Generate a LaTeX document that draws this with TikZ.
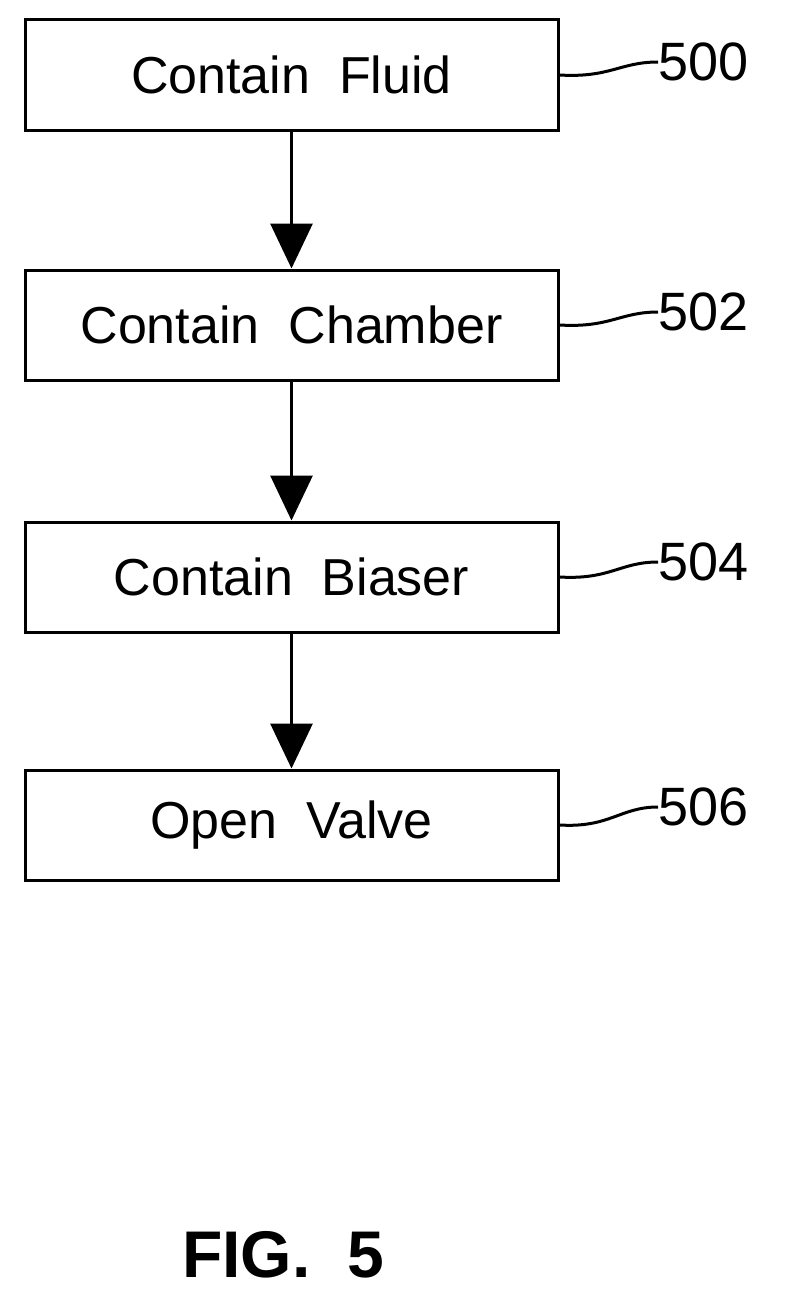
\documentclass[tikz,border=0pt]{standalone}
\usepackage{fontspec}
\setmainfont{Liberation Sans}
\usetikzlibrary{arrows.meta}
\tikzstyle{stage}=[draw,line width=3pt,minimum width=533pt,minimum height=110pt,inner sep=0pt,font=\fontsize{52}{60}\selectfont]
\tikzstyle{flow}=[line width=3pt,-{Triangle[length=45pt,width=42pt]}]
\tikzstyle{lead}=[line width=3pt]
\tikzstyle{num}=[font=\fontsize{54}{60}\selectfont,anchor=west,inner sep=0pt]
\begin{document}
\begin{tikzpicture}[x=1pt,y=-1pt]
\useasboundingbox (0,0) rectangle (791,1306);
\node[stage] (fluid)   at (291.5,75)  {Contain\ \ Fluid};
\node[stage] (chamber) at (291.5,325) {Contain\ \ Chamber};
\node[stage] (biaser)  at (291.5,577) {Contain\ \ Biaser};
\node[stage] (valve)   at (291.5,825) {Open\ \ Valve};
\node[num] (n500) at (658,62)  {500};
\node[num] (n502) at (658,312) {502};
\node[num] (n504) at (658,562) {504};
\node[num] (n506) at (658,807) {506};
\draw[flow] (fluid) -- (chamber);
\draw[flow] (chamber) -- (biaser);
\draw[flow] (biaser) -- (valve);
\draw[lead] (fluid.east)   .. controls (610,78) and (620,62) .. (n500.west);
\draw[lead] (chamber.east) .. controls (610,328) and (620,312) .. (n502.west);
\draw[lead] (biaser.east)  .. controls (610,580) and (620,562) .. (n504.west);
\draw[lead] (valve.east)   .. controls (610,828) and (620,807) .. (n506.west);
\node[font=\bfseries\fontsize{66}{72}\selectfont] (fig) at (283,1255) {FIG.\ \ 5};
\end{tikzpicture}
\end{document}
